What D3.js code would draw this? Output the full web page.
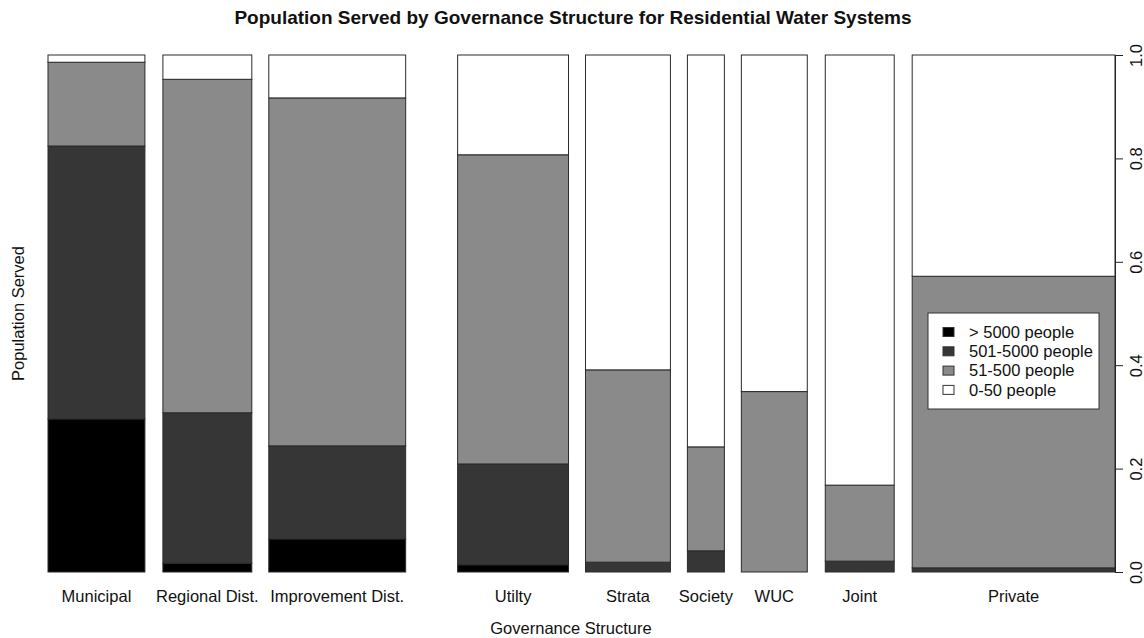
<!DOCTYPE html>
<html>
<head>
<meta charset="utf-8">
<script src="https://cdn.jsdelivr.net/npm/d3@7"></script>
<style>
  html, body { margin: 0; padding: 0; background: #fff; }
  svg { display: block; font-family: "Liberation Sans", Arial, Helvetica, sans-serif; }
</style>
</head>
<body>
<svg id="chart" width="1144" height="638"></svg>
<script>
// Governance structures (bar order, left to right)
const categories = ["Municipal", "Regional Dist.", "Improvement Dist.", "Utilty", "Strata", "Society", "WUC", "Joint", "Private"];

// Relative bar widths and the space before each bar (same units)
const barWidths = [97, 89, 137, 111, 85, 37, 66, 69, 203];
const barSpaces = [0, 18, 17, 52, 17, 17, 17, 18, 18];

// Population-size classes, stacked bottom to top
const classes = ["> 5000 people", "501-5000 people", "51-500 people", "0-50 people"];
const classColors = ["#000000", "#363636", "#8a8a8a", "#ffffff"];

// Share of population served by each class, per governance structure
const over5000   = [0.296, 0.017, 0.064, 0.014, 0.000, 0.000, 0.000, 0.000, 0.000];
const from501    = [0.528, 0.291, 0.180, 0.195, 0.019, 0.041, 0.000, 0.021, 0.008];
const from51     = [0.162, 0.645, 0.673, 0.598, 0.372, 0.201, 0.349, 0.147, 0.564];
const upTo50     = [0.014, 0.047, 0.083, 0.193, 0.609, 0.758, 0.651, 0.832, 0.428];

const yTicks = [0, 0.2, 0.4, 0.6, 0.8, 1.0];

const svg = d3.select("#chart");
const plot = { left: 48, right: 1115, top: 55, bottom: 572 };
const baseFont = 16.5;

// Cumulative layout of bars in width units
let cursor = 0;
const bars = categories.map((name, i) => {
  cursor += barSpaces[i];
  const b = { name, x0: cursor, x1: cursor + barWidths[i],
    values: [over5000[i], from501[i], from51[i], upTo50[i]] };
  cursor += barWidths[i];
  return b;
});

const x = d3.scaleLinear().domain([0, cursor]).range([plot.left, plot.right]);
const y = d3.scaleLinear().domain([0, 1]).range([plot.bottom, plot.top]);

// Stacked segments
const segs = [];
bars.forEach(b => {
  let acc = 0;
  b.values.forEach((v, k) => {
    segs.push({ bar: b, k, y0: acc, y1: acc + v });
    acc += v;
  });
});

svg.append("g").selectAll("rect")
  .data(segs.filter(s => s.y1 - s.y0 > 0))
  .join("rect")
  .attr("x", d => x(d.bar.x0))
  .attr("width", d => x(d.bar.x1) - x(d.bar.x0))
  .attr("y", d => y(d.y1))
  .attr("height", d => y(d.y0) - y(d.y1))
  .attr("fill", d => classColors[d.k])
  .attr("stroke", "#2a2a2a")
  .attr("stroke-width", 1);

// Category labels
svg.append("g").selectAll("text")
  .data(bars)
  .join("text")
  .attr("x", d => x((d.x0 + d.x1) / 2))
  .attr("y", 602)
  .attr("text-anchor", "middle")
  .attr("font-size", baseFont)
  .attr("fill", "#111")
  .text(d => d.name);

// Right-hand value axis
const axis = d3.axisRight(y).tickValues(yTicks).tickFormat(d3.format(".1f")).tickSize(8).tickSizeOuter(0);
const gAxis = svg.append("g").attr("transform", `translate(${plot.right},0)`).call(axis);
gAxis.select(".domain").attr("stroke", "#222");
gAxis.selectAll(".tick line").attr("stroke", "#222");
gAxis.selectAll(".tick text")
  .attr("x", 0).attr("y", 0).attr("dy", null)
  .attr("transform", "translate(27,0) rotate(-90)")
  .attr("text-anchor", "middle")
  .attr("font-size", baseFont)
  .attr("font-family", "Liberation Sans, Arial, sans-serif")
  .attr("fill", "#111");

// Titles
svg.append("text")
  .attr("x", 573).attr("y", 24)
  .attr("text-anchor", "middle")
  .attr("font-size", 19).attr("font-weight", "bold")
  .attr("fill", "#111")
  .text("Population Served by Governance Structure for Residential Water Systems");

svg.append("text")
  .attr("x", 571).attr("y", 634)
  .attr("text-anchor", "middle")
  .attr("font-size", baseFont)
  .attr("fill", "#111")
  .text("Governance Structure");

svg.append("text")
  .attr("transform", `translate(24,${(plot.top + plot.bottom) / 2}) rotate(-90)`)
  .attr("text-anchor", "middle")
  .attr("font-size", baseFont)
  .attr("fill", "#111")
  .text("Population Served");

// Legend
const lg = svg.append("g").attr("transform", "translate(928,313)");
lg.append("rect").attr("width", 171).attr("height", 96)
  .attr("fill", "#fff").attr("stroke", "#333").attr("stroke-width", 1);
classes.forEach((c, i) => {
  const cy = 19 + i * 19.3;
  lg.append("rect").attr("x", 15).attr("y", cy - 4.5).attr("width", 11).attr("height", 9)
    .attr("fill", classColors[i]).attr("stroke", "#333").attr("stroke-width", 1);
  lg.append("text").attr("x", 41).attr("y", cy).attr("dy", "0.35em")
    .attr("font-size", baseFont).attr("fill", "#111").text(c);
});
</script>
</body>
</html>
